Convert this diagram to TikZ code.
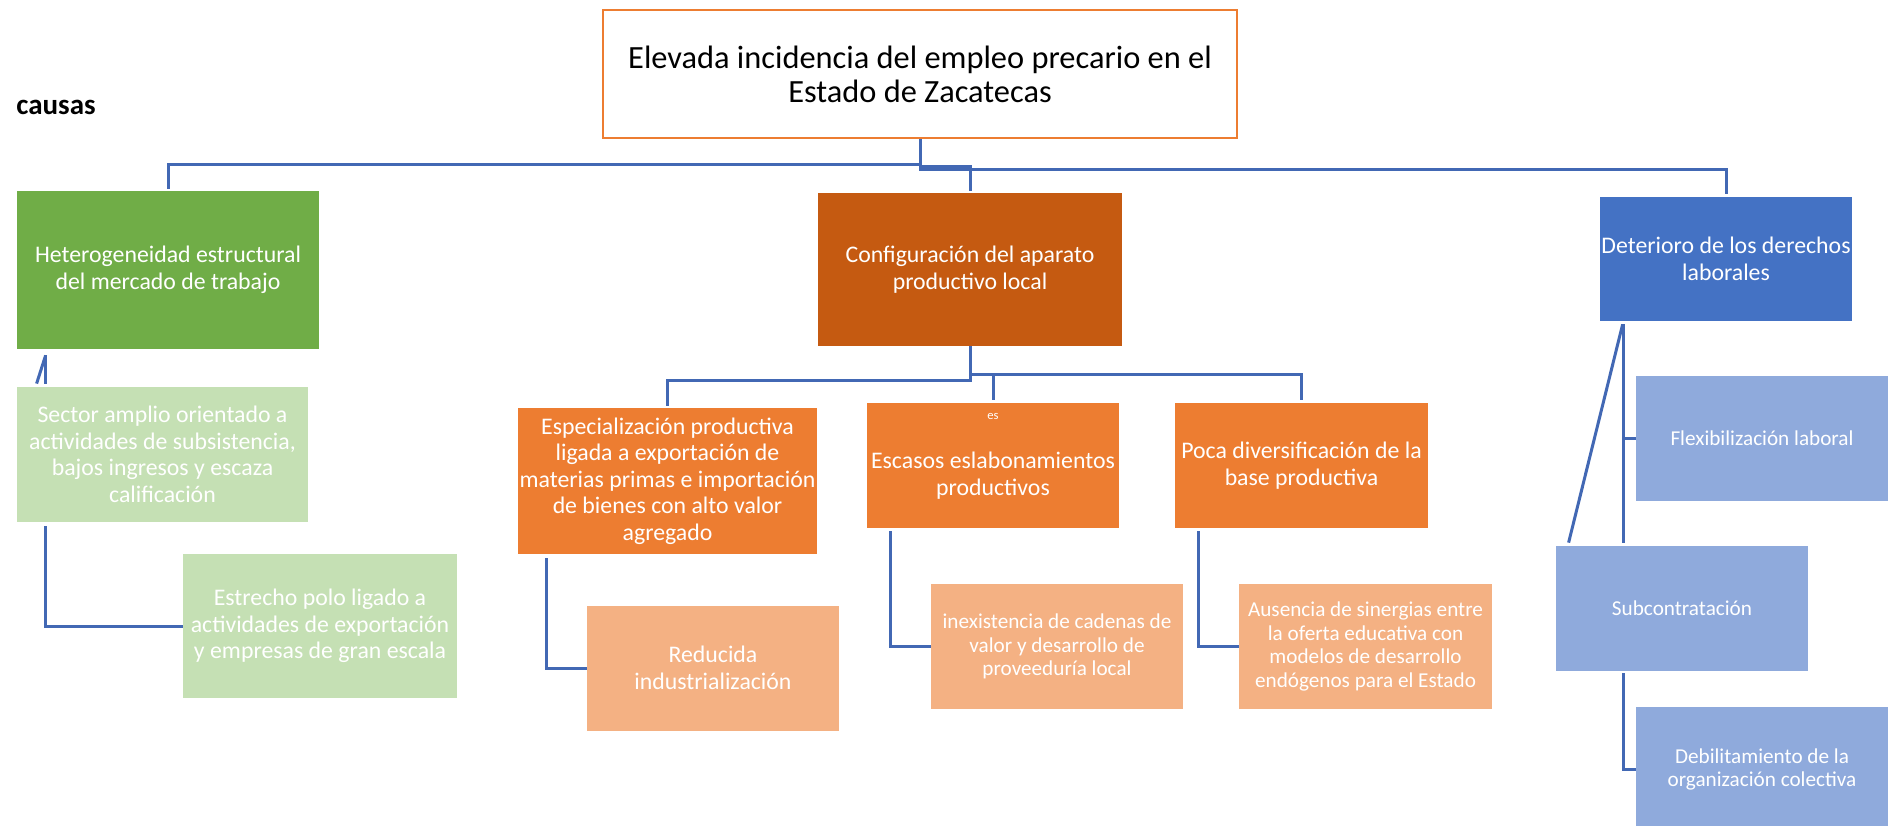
\documentclass[tikz,border=0pt]{standalone}
\usepackage{fontspec}
\setmainfont{Carlito}
\usetikzlibrary{calc}
\definecolor{cborder}{RGB}{237,125,49}
\definecolor{cgreen}{RGB}{112,173,71}
\definecolor{clgreen}{RGB}{197,224,180}
\definecolor{cdorange}{RGB}{197,90,17}
\definecolor{corange}{RGB}{237,125,49}
\definecolor{clorange}{RGB}{244,177,131}
\definecolor{cblue}{RGB}{68,114,196}
\definecolor{clblue}{RGB}{143,170,220}
\definecolor{cline}{RGB}{66,104,180}
\begin{document}
\begin{tikzpicture}[x=0.5pt,y=-0.5pt,
  box/.style={rectangle, inner sep=0pt, align=center, text=white, minimum width=126pt, minimum height=62.5pt},
  big/.style={font=\fontsize{11.9pt}{13.3pt}\selectfont},
  small/.style={font=\fontsize{10.6pt}{11.7pt}\selectfont},
  conn/.style={draw=cline, line width=1.5pt},
]
\useasboundingbox (0,0) rectangle (1898,825);
\clip (0,0) rectangle (1898,825);
\fill[white] (0,0) rectangle (1898,825);

% title
\node[box, text=black, draw=cborder, line width=1.2pt, fill=white,
  minimum width=317pt, minimum height=64pt,
  font=\fontsize{16.2pt}{17pt}\selectfont] (title) at (920,74)
  {Elevada incidencia del empleo precario en el\\Estado de Zacatecas};
\node[font=\fontsize{14.5pt}{17pt}\selectfont\bfseries, inner sep=0pt] (causas) at (56,107) {causas};

% left branch
\node[box, big, fill=cgreen, minimum width=151pt, minimum height=79pt] (hetero) at (168,270)
  {Heterogeneidad estructural\\del mercado de trabajo};
\node[box, big, fill=clgreen, minimum width=145.5pt, minimum height=67.5pt] (sector) at (162.5,454.5)
  {Sector amplio orientado a\\actividades de subsistencia,\\bajos ingresos y escaza\\calificación};
\node[box, big, fill=clgreen, minimum width=137pt, minimum height=72pt] (estrecho) at (320,626)
  {Estrecho polo ligado a\\actividades de exportación\\y empresas de gran escala};

% middle branch
\node[box, big, fill=cdorange, minimum width=152pt, minimum height=76.5pt] (config) at (970,269.5)
  {Configuración del aparato\\productivo local};
\node[box, big, fill=corange, minimum width=149.5pt, minimum height=73pt] (espec) at (667.5,481)
  {Especialización productiva\\ligada a exportación de\\materias primas e importación\\de bienes con alto valor\\agregado};
\node[box, big, fill=clorange] (reduc) at (713,668)
  {Reducida\\industrialización};
\node[box, big, fill=corange,
  label={[anchor=north, inner sep=0pt, yshift=-5pt, text=white, font=\fontsize{6.3pt}{7pt}\selectfont]north:es}] (escasos) at (993,465.5)
  {\raisebox{-8.5pt}[0pt][0pt]{\begin{tabular}{@{}c@{}}Escasos eslabonamientos\\productivos\end{tabular}}};
\node[box, small, fill=clorange] (inex) at (1057,646.5)
  {inexistencia de cadenas de\\valor y desarrollo de\\proveeduría local};
\node[box, big, fill=corange, minimum width=126.5pt] (poca) at (1301.5,465.5)
  {Poca diversificación de la\\base productiva};
\node[box, small, fill=clorange, minimum width=126.5pt] (ausencia) at (1365.5,646.5)
  {Ausencia de sinergias entre\\la oferta educativa con\\modelos de desarrollo\\endógenos para el Estado};

% right branch
\node[box, big, fill=cblue, minimum height=62pt] (deter) at (1726,259)
  {Deterioro de los derechos\\laborales};
\node[box, small, fill=clblue] (flex) at (1762,438.5) {Flexibilización laboral};
\node[box, small, fill=clblue] (sub) at (1682,608.5) {Subcontratación};
\node[box, small, fill=clblue] (debil) at (1762,769.5)
  {Debilitamiento de la\\organización colectiva};

% connectors from title
\draw[conn] (title.south) -- ++(0,25) -| ($(hetero.north)+(0,-2)$);
\draw[conn] (title.south) -- ++(0,27) -| ($(config.north)+(0,-2)$);
\draw[conn] (title.south) -- ++(0,30) -| ($(deter.north)+(0,-3)$);

% connectors from config
\draw[conn] (config.south) -- ++(0,34) -| ($(espec.north)+(0,-2)$);
\draw[conn] (config.south) -- ++(0,28) -| ($(poca.north)+(0,-3)$);
\draw[conn] (config.south) -- ++(0,28) -| ($(escasos.north)+(0,-3)$);

% sub connectors
\draw[conn] ($(espec.south west)+(29,4)$) |- (reduc.west);
\draw[conn] ($(escasos.south west)+(24,3)$) |- (inex.west);
\draw[conn] ($(poca.south west)+(24,3)$) |- (ausencia.west);
\draw[conn] ($(sector.south west)+(29,4)$) |- (estrecho.west);
\draw[conn] ($(hetero.south west)+(29,6)$) -- ($(sector.north west)+(29,-3)$);
\draw[conn] ($(hetero.south west)+(29,6)$) -- ($(sector.north west)+(20,-3)$);

% right connectors
\draw[conn] ($(deter.south west)+(24,3)$) -- ($(sub.north west)+(68,-3)$);
\draw[conn] ($(deter.south west)+(23,3)$) -- ($(sub.north west)+(13,-3)$);
\draw[conn] (flex.west) -- ++(-12,0);
\draw[conn] ($(sub.south west)+(68,2)$) |- (debil.west);
\end{tikzpicture}
\end{document}
